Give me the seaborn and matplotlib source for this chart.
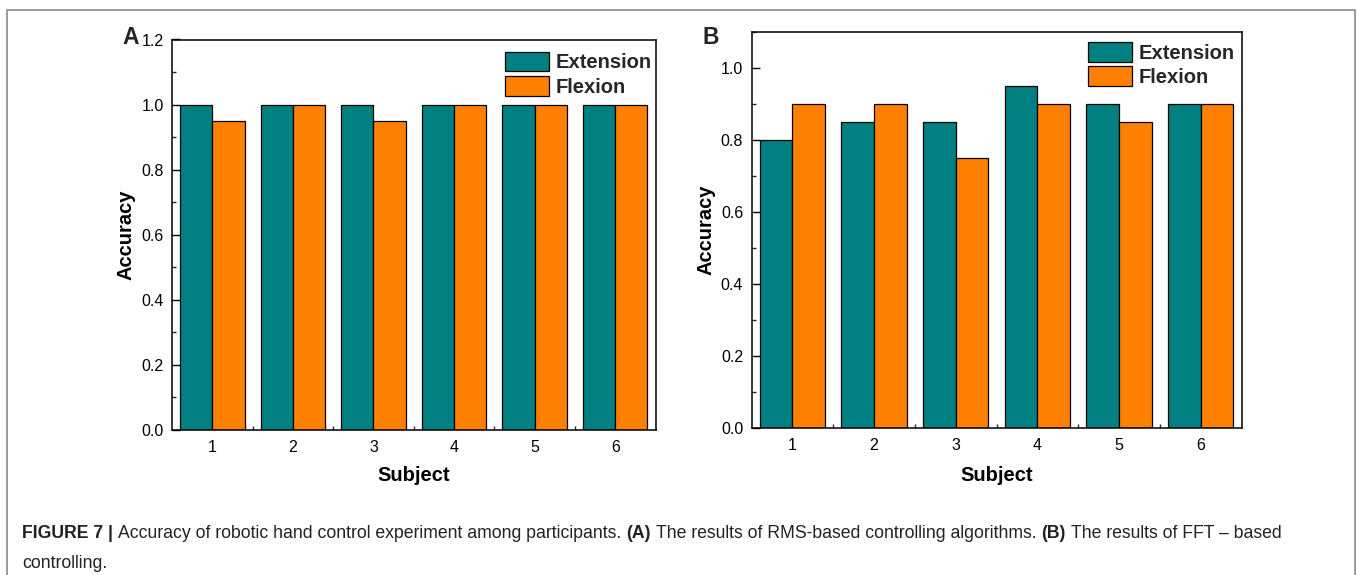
import matplotlib
matplotlib.use("Agg")
import matplotlib.pyplot as plt
import matplotlib.transforms as mtrans
from matplotlib.patches import Rectangle
from matplotlib.ticker import MultipleLocator, FixedLocator, FormatStrFormatter
import seaborn as sns
import pandas as pd

# ---- data ----
subjects = ["1", "2", "3", "4", "5", "6"]
movements = ["Extension", "Flexion"]
a_extension = [1.00, 1.00, 1.00, 1.00, 1.00, 1.00]
a_flexion = [0.95, 1.00, 0.95, 1.00, 1.00, 1.00]
b_extension = [0.80, 0.85, 0.85, 0.95, 0.90, 0.90]
b_flexion = [0.90, 0.90, 0.75, 0.90, 0.85, 0.90]

TEAL = "#008080"
ORANGE = "#FF8000"

def long_df(ext, flx):
    rows = []
    for s, v in zip(subjects, ext):
        rows.append({"Subject": s, "Accuracy": v, "Movement": "Extension"})
    for s, v in zip(subjects, flx):
        rows.append({"Subject": s, "Accuracy": v, "Movement": "Flexion"})
    return pd.DataFrame(rows)

dfA = long_df(a_extension, a_flexion)
dfB = long_df(b_extension, b_flexion)

sns.set_theme(style="white")
plt.rcParams["font.family"] = ["Liberation Sans", "DejaVu Sans"]

W, H = 1357, 575
fig = plt.figure(figsize=(W / 100, H / 100), dpi=100)
fig.patch.set_facecolor("white")

def rect(l, t, r, b):
    return [l / W, 1 - b / H, (r - l) / W, (b - t) / H]

axA = fig.add_axes(rect(172, 39.5, 655.5, 430))
axB = fig.add_axes(rect(751.5, 32, 1241.5, 428.3))

def style(ax, df, ymax, label_x, leg_xy):
    sns.barplot(data=df, x="Subject", y="Accuracy", hue="Movement",
                order=subjects, hue_order=movements,
                palette=[TEAL, ORANGE], saturation=1, width=0.8,
                edgecolor="black", linewidth=0.9, ax=ax, errorbar=None)
    ax.set_ylim(0, ymax)
    ax.set_xlim(-0.5, 5.5)
    ax.yaxis.set_major_locator(MultipleLocator(0.2))
    ax.yaxis.set_minor_locator(MultipleLocator(0.1))
    ax.xaxis.set_minor_locator(FixedLocator([0.5, 1.5, 2.5, 3.5, 4.5]))
    ax.yaxis.set_major_formatter(FormatStrFormatter("%.1f"))
    ax.tick_params(axis="y", which="major", direction="in", length=6, width=1.0,
                   labelsize=11.5, pad=6, left=True, colors="black")
    ax.tick_params(axis="y", which="minor", direction="in", length=3.2, width=1.0, left=True)
    ax.tick_params(axis="x", which="major", direction="in", length=0, labelsize=11.5,
                   pad=7, bottom=True, colors="black")
    ax.tick_params(axis="x", which="minor", direction="in", length=3, width=1.0, bottom=True)
    for sp in ax.spines.values():
        sp.set_visible(True)
        sp.set_color("black")
        sp.set_linewidth(1.1)
    ax.set_facecolor("white")
    ax.set_xlabel("Subject", fontsize=14.5, fontweight="bold", color="black")
    ax.set_ylabel("Accuracy", fontsize=14.5, fontweight="bold", color="black")
    ax.yaxis.set_label_coords(label_x / W, 0.5,
                              transform=mtrans.blended_transform_factory(fig.transFigure, ax.transAxes))
    ax.xaxis.set_label_coords(0.5, 1 - 466 / H,
                              transform=mtrans.blended_transform_factory(ax.transAxes, fig.transFigure))
    handles, labels = ax.get_legend_handles_labels()
    ax.legend(handles, labels, loc="upper left",
              bbox_to_anchor=(leg_xy[0] / W, 1 - leg_xy[1] / H),
              bbox_transform=fig.transFigure, frameon=False,
              prop={"size": 14.5, "weight": "bold"},
              handlelength=2.2, handleheight=1.15, handletextpad=0.3,
              labelspacing=0.18, borderpad=0, borderaxespad=0)

style(axA, dfA, 1.2, 135, (505, 51.5))
style(axB, dfB, 1.1, 716, (1088, 42))

# panel letters
fig.text(122 / W, 1 - 43.5 / H, "A", fontsize=16.5, fontweight="bold", va="baseline", ha="left")
fig.text(703 / W, 1 - 43.5 / H, "B", fontsize=16.5, fontweight="bold", va="baseline", ha="left")

# figure border (extends beyond bottom edge)
fig.add_artist(Rectangle((7 / W, -0.1), (1355 - 7) / W, 1.1 - 9.5 / H,
                         transform=fig.transFigure, fill=False,
                         edgecolor="#8a8a8a", linewidth=1.2))

# caption with mixed weights
fig.canvas.draw()
renderer = fig.canvas.get_renderer()
CAP_SIZE = 12.7
CAP_COLOR = "#222222"

def text_width(s, weight):
    t = fig.text(0, 0, s, fontsize=CAP_SIZE, fontweight=weight)
    w = t.get_window_extent(renderer).width
    t.remove()
    return w

space_w = text_width("a a", "normal") - text_width("aa", "normal")

def draw_line(pieces, x0, baseline):
    x = x0
    for s, weight in pieces:
        lead = len(s) - len(s.lstrip(" "))
        trail = len(s) - len(s.rstrip(" "))
        core = s.strip(" ")
        x += lead * space_w
        t = fig.text(x / W, 1 - baseline / H, core, fontsize=CAP_SIZE, fontweight=weight,
                     color=CAP_COLOR, va="baseline", ha="left")
        x += t.get_window_extent(renderer).width
        x += trail * space_w

line1 = [("FIGURE 7 | ", "bold"),
         ("Accuracy of robotic hand control experiment among participants. ", "normal"),
         ("(A)", "bold"),
         (" The results of RMS-based controlling algorithms. ", "normal"),
         ("(B)", "bold"),
         (" The results of FFT \u2013 based", "normal")]
line2 = [("controlling.", "normal")]
draw_line(line1, 22.5, 538)
draw_line(line2, 22.5, 568)

fig.savefig("out.png", dpi=100, facecolor="white")
